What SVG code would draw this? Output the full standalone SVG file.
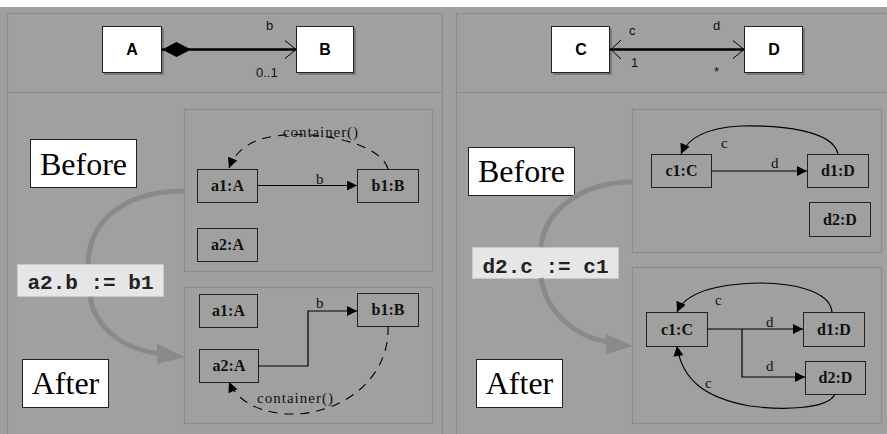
<svg xmlns="http://www.w3.org/2000/svg" width="887" height="434" viewBox="0 0 887 434">
  <defs>
    <style>
      .frame { fill: none; stroke: #8c8c8c; stroke-width: 1.2; }
      .cls { fill: #ffffff; stroke: #222; stroke-width: 1; }
      .cls-t { font-family: "Liberation Sans", Arial, sans-serif; font-weight: bold; font-size: 16px; text-anchor: middle; fill: #000; }
      .role { font-family: "Liberation Sans", Arial, sans-serif; font-size: 13px; fill: #111; }
      .obj { fill: #a0a0a0; stroke: #222; stroke-width: 1; }
      .obj-t { font-family: "Liberation Serif", "Times New Roman", serif; font-weight: bold; font-size: 16px; text-anchor: middle; fill: #111; }
      .lbl { font-family: "Liberation Serif", "Times New Roman", serif; font-size: 15px; fill: #111; }
      .tag { fill: #ffffff; stroke: #222; stroke-width: 1; }
      .tag-t { font-family: "Liberation Serif", "Times New Roman", serif; font-size: 32px; fill: #000; text-anchor: middle; }
      .code { fill: #e6e6e6; stroke: #c8c8c8; stroke-width: 1; }
      .code-t { font-family: "Liberation Mono", "Courier New", monospace; font-weight: bold; font-size: 21px; fill: #222; text-anchor: middle; }
      .edge { fill: none; stroke: #000; stroke-width: 1.2; }
      .dash { fill: none; stroke: #000; stroke-width: 1.1; stroke-dasharray: 9 7; }
      .flow { fill: none; stroke: #8a8a8a; stroke-width: 5; }
    </style>
    <marker id="tri" viewBox="0 0 10 10" refX="10" refY="5" markerWidth="14" markerHeight="10" markerUnits="userSpaceOnUse" orient="auto">
      <path d="M0,0 L10,5 L0,10 z" fill="#000"/>
    </marker>
    <marker id="open" viewBox="0 0 12 20" refX="11" refY="10" markerWidth="12" markerHeight="20" markerUnits="userSpaceOnUse" orient="auto">
      <path d="M0,1 L11,10 L0,19" fill="none" stroke="#000" stroke-width="1"/>
    </marker>
  </defs>

  <!-- backdrop -->
  <rect x="0" y="0" width="887" height="434" fill="#ffffff"/>
  <rect x="0" y="7" width="887" height="427" fill="#a0a0a0"/>

  <!-- left and right panels -->
  <path class="frame" d="M7.5,434 V13.5 H442.5 V434"/>
  <path class="frame" d="M7.5,92.5 H442.5"/>
  <path class="frame" d="M456.5,434 V13.5 H887"/>
  <path class="frame" d="M456.5,92.5 H887"/>

  <!-- state frames -->
  <rect class="frame" x="184.5" y="109.5" width="248" height="162"/>
  <rect class="frame" x="184.5" y="287.5" width="248" height="136"/>
  <rect class="frame" x="632.5" y="109.5" width="249" height="143"/>
  <rect class="frame" x="632.5" y="267.5" width="249" height="156"/>

  <!-- class diagrams -->
  <g id="class-A">
    <rect x="104" y="28" width="60" height="47" fill="#7a7a7a"/>
    <rect class="cls" x="102.5" y="26.5" width="59" height="46"/>
    <text class="cls-t" x="132" y="55">A</text>
  </g>
  <g id="class-B">
    <rect x="298" y="28" width="58" height="47" fill="#7a7a7a"/>
    <rect class="cls" x="296.5" y="26.5" width="57" height="46"/>
    <text class="cls-t" x="325" y="55">B</text>
  </g>
  <g id="class-C">
    <rect x="553" y="28" width="59" height="47" fill="#7a7a7a"/>
    <rect class="cls" x="551.5" y="26.5" width="58" height="46"/>
    <text class="cls-t" x="581" y="55">C</text>
  </g>
  <g id="class-D">
    <rect x="746" y="28" width="59" height="47" fill="#7a7a7a"/>
    <rect class="cls" x="744.5" y="26.5" width="58" height="46"/>
    <text class="cls-t" x="774" y="55">D</text>
  </g>

  <!-- labels -->
  <g id="tag-before-left"><rect class="tag" x="30.5" y="139.5" width="106" height="48"/><text class="tag-t" x="83.5" y="175">Before</text></g>
  <g id="tag-after-left"><rect class="tag" x="22.5" y="359.5" width="86" height="48"/><text class="tag-t" x="65.5" y="394">After</text></g>
  <g id="tag-before-right"><rect class="tag" x="468.5" y="147.5" width="106" height="48"/><text class="tag-t" x="521.5" y="182">Before</text></g>
  <g id="tag-after-right"><rect class="tag" x="476.5" y="359.5" width="86" height="48"/><text class="tag-t" x="519.5" y="394">After</text></g>

  <!-- object nodes -->
  <g id="before-a1"><rect class="obj" x="197.5" y="169.5" width="60" height="33"/><text class="obj-t" x="227.5" y="191">a1:A</text></g>
  <g id="before-b1"><rect class="obj" x="357.5" y="169.5" width="61" height="33"/><text class="obj-t" x="388" y="191">b1:B</text></g>
  <g id="before-a2"><rect class="obj" x="197.5" y="228.5" width="60" height="33"/><text class="obj-t" x="227.5" y="250">a2:A</text></g>

  <g id="after-a1"><rect class="obj" x="199.5" y="294.5" width="58" height="33"/><text class="obj-t" x="228.5" y="316">a1:A</text></g>
  <g id="after-b1"><rect class="obj" x="357.5" y="293.5" width="61" height="33"/><text class="obj-t" x="388" y="315">b1:B</text></g>
  <g id="after-a2"><rect class="obj" x="199.5" y="349.5" width="59" height="33"/><text class="obj-t" x="229" y="371">a2:A</text></g>

  <g id="before-c1"><rect class="obj" x="651.5" y="154.5" width="60" height="33"/><text class="obj-t" x="681.5" y="176">c1:C</text></g>
  <g id="before-d1"><rect class="obj" x="807.5" y="154.5" width="61" height="33"/><text class="obj-t" x="838" y="176">d1:D</text></g>
  <g id="before-d2"><rect class="obj" x="809.5" y="202.5" width="61" height="34"/><text class="obj-t" x="840" y="225">d2:D</text></g>

  <g id="after-c1"><rect class="obj" x="646.5" y="312.5" width="61" height="34"/><text class="obj-t" x="677" y="335">c1:C</text></g>
  <g id="after-d1"><rect class="obj" x="803.5" y="312.5" width="61" height="34"/><text class="obj-t" x="834" y="335">d1:D</text></g>
  <g id="after-d2"><rect class="obj" x="805.5" y="361.5" width="60" height="33"/><text class="obj-t" x="835.5" y="383">d2:D</text></g>

  <!-- code steps -->
  <g id="step-left"><rect class="code" x="17.5" y="264.5" width="146" height="32"/><text class="code-t" x="90.5" y="289">a2.b := b1</text></g>
  <g id="step-right"><rect class="code" x="472.5" y="247.5" width="146" height="31"/><text class="code-t" x="545.5" y="273">d2.c := c1</text></g>

  <g id="connectors">
    <!-- class associations -->
    <path d="M162,49.5 H296" stroke="#000" stroke-width="2.5" fill="none" marker-end="url(#open)"/>
    <path d="M162,49.5 L176.5,42 L191,49.5 L176.5,57 z" fill="#000"/>
    <text class="role" x="266" y="30">b</text>
    <text class="role" x="256" y="77">0..1</text>

    <path d="M610,49.5 H744" stroke="#000" stroke-width="2.5" fill="none" marker-end="url(#open)"/>
    <path d="M621,40 L611,49.5 L621,59" fill="none" stroke="#000" stroke-width="1"/>
    <text class="role" x="629" y="35">c</text>
    <text class="role" x="713" y="30">d</text>
    <text class="role" x="631" y="67">1</text>
    <text class="role" x="714" y="76">*</text>

    <!-- transition flow -->
    <path class="flow" d="M184,191 C135,191 90,212 88,264"/>
    <path class="flow" d="M90,297 C96,330 125,350 162,354"/>
    <path d="M185,357 L157,344 L157,364 z" fill="#8a8a8a"/>
    <path class="flow" d="M632,182 C585,182 545,208 541,247"/>
    <path class="flow" d="M541,278 C547,315 578,338 610,342"/>
    <path d="M633,346 L606,334 L606,354 z" fill="#8a8a8a"/>

    <!-- left, before -->
    <path class="edge" d="M257,185.5 H357" marker-end="url(#tri)"/>
    <text class="lbl" x="316" y="184">b</text>
    <path class="dash" d="M388,169 C380,140 300,126 258,140 C243,146 234,155 229,168" marker-end="url(#tri)"/>
    <text class="lbl" x="283" y="137" textLength="75">container()</text>

    <!-- left, after -->
    <path class="edge" d="M258,366 H308 V311 H357" marker-end="url(#tri)"/>
    <text class="lbl" x="316" y="308">b</text>
    <path class="dash" d="M388,326 C390,380 340,415 290,414 C255,413 236,398 229,382" marker-end="url(#tri)"/>
    <text class="lbl" x="257" y="403" textLength="76">container()</text>

    <!-- right, before -->
    <path class="edge" d="M711,171 H807" marker-end="url(#tri)"/>
    <text class="lbl" x="771" y="168">d</text>
    <path class="edge" d="M838,154 C833,130 780,125 740,126 C705,128 688,138 681,154" marker-end="url(#tri)"/>
    <text class="lbl" x="721" y="148">c</text>

    <!-- right, after -->
    <path class="edge" d="M707,329 H803" marker-end="url(#tri)"/>
    <path class="edge" d="M742,329 V377 H805" marker-end="url(#tri)"/>
    <text class="lbl" x="766" y="327">d</text>
    <text class="lbl" x="766" y="371">d</text>
    <path class="edge" d="M832,312 C830,290 790,283 760,283 C710,284 685,294 677,312" marker-end="url(#tri)"/>
    <text class="lbl" x="715" y="305">c</text>
    <path class="edge" d="M835,394 C828,410 780,410 750,406 C705,398 682,380 677,346" marker-end="url(#tri)"/>
    <text class="lbl" x="705" y="388">c</text>
  </g>
</svg>
